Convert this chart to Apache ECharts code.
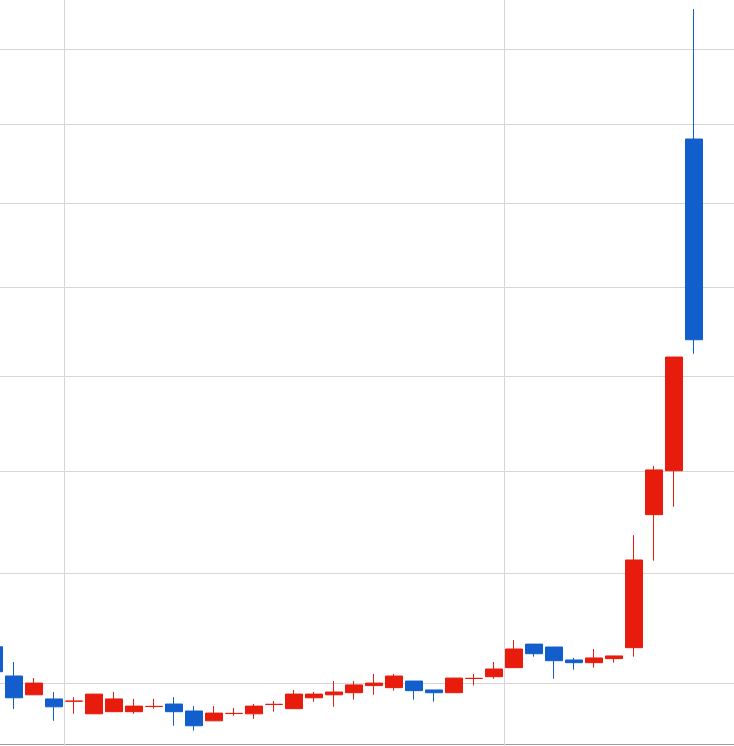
<!DOCTYPE html>
<html>
<head>
<meta charset="utf-8">
<script src="https://cdn.jsdelivr.net/npm/echarts@6/dist/echarts.min.js"></script>
<style>
html,body{margin:0;padding:0;background:#ffffff;}
#chart{width:734px;height:746px;}
</style>
</head>
<body>
<div id="chart"></div>
<script>
// Trading-day categories (labels are not shown in the picture)
const categories = ['1','2','3','4','5','6','7','8','9','10','11','12','13','14','15','16','17','18','19','20',
  '21','22','23','24','25','26','27','28','29','30','31','32','33','34','35','36','37','38'];

// Candle values (log price scale)
const opens  = [6362,6232,6150,6132,6122,6068,6077,6077,6099,6110,6080,6038,6069,6068,6108,6090,6137,6150,6159,6190,
                6181,6210,6171,6159,6221,6229,6269,6374,6361,6303,6291,6309,6358,6984,7204,9105];
const closes = [6251,6137,6201,6098,6123,6153,6132,6101,6100,6077,6017,6071,6070,6101,6109,6153,6153,6162,6193,6201,
                6232,6168,6159,6223,6222,6263,6352,6331,6300,6291,6312,6321,6764,7208,7806,7902];
const lows   = [6240,6088,6150,6038,6068,6068,6077,6068,6090,6017,5996,6038,6060,6046,6077,6090,6120,6098,6129,6150,
                6168,6129,6120,6159,6190,6220,6269,6318,6220,6260,6269,6291,6318,6761,7023,7824];
const highs  = [6380,6294,6223,6162,6140,6153,6162,6132,6132,6140,6101,6101,6093,6110,6123,6171,6162,6210,6210,6241,
                6241,6210,6171,6223,6241,6294,6392,6374,6361,6312,6352,6321,6884,7228,7806,9980];

// Horizontal gridline values and the category indices where vertical gridlines start
const gridValues = [6200,6700,7200,7700,8200,8700,9200,9700];
const splitIndices = [4, 26];

const yMin = 5940;
const yMax = 10044;

const upColor = '#e81c0c';
const downColor = '#125ecc';
const gridColor = '#d6d6d6';

const candleData = categories.map(function (c, i) {
  return i < opens.length ? [opens[i], closes[i], lows[i], highs[i]] : '-';
});

const splitFn = function (index) { return splitIndices.indexOf(index) >= 0; };

const chart = echarts.init(document.getElementById('chart'), null, {renderer: 'canvas'});
chart.setOption({
  animation: false,
  backgroundColor: '#ffffff',
  grid: {left: -16, width: 760, top: 0, bottom: 2, containLabel: false, outerBoundsMode: 'none'},
  xAxis: {
    type: 'category',
    data: categories,
    boundaryGap: true,
    axisLine: {show: true, lineStyle: {color: '#9e9e9e', width: 1}},
    axisTick: {show: true, interval: splitFn, length: 4, lineStyle: {color: gridColor}},
    axisLabel: {show: false},
    splitLine: {show: true, interval: splitFn, lineStyle: {color: gridColor, width: 1}}
  },
  yAxis: {
    type: 'log',
    min: yMin,
    max: yMax,
    axisLine: {show: false},
    axisTick: {show: false},
    axisLabel: {show: false},
    splitLine: {show: false}
  },
  series: [{
    type: 'candlestick',
    data: candleData,
    barWidth: 17,
    z: 2,
    itemStyle: {
      color: upColor, color0: downColor,
      borderColor: upColor, borderColor0: downColor,
      borderWidth: 1
    },
    markLine: {
      silent: true,
      z: 1,
      symbol: ['none', 'none'],
      label: {show: false},
      emphasis: {disabled: true},
      lineStyle: {color: gridColor, width: 1, type: 'solid'},
      data: gridValues.map(function (v) { return {yAxis: v}; })
    }
  }]
});
</script>
</body>
</html>
